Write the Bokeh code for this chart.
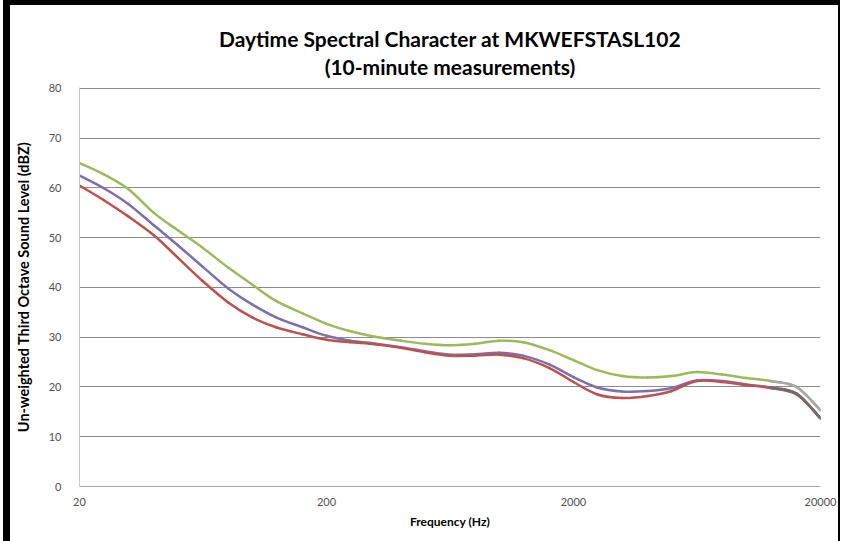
import math
from bokeh.plotting import figure
from bokeh.models import FixedTicker, NumeralTickFormatter, Title, Range1d, LinearAxis
from bokeh.embed import file_html
from bokeh.resources import INLINE

# Third-octave band centre frequencies (Hz)
freq = [20, 25, 31.5, 40, 50, 63, 80, 100, 125, 160, 200, 250, 315, 400, 500,
        630, 800, 1000, 1250, 1600, 2000, 2500, 3150, 4000, 5000, 6300, 8000,
        10000, 12500, 16000, 20000]

green_series = [65.0, 62.8, 59.8, 55.0, 51.5, 48.0, 44.0, 40.6, 37.3, 34.8, 32.7,
                31.2, 30.1, 29.3, 28.7, 28.4, 28.7, 29.3, 29.0, 27.4, 25.4, 23.4,
                22.2, 21.9, 22.2, 23.0, 22.5, 21.8, 21.2, 20.0, 15.3]
purple_series = [62.5, 60.0, 56.8, 52.5, 48.5, 44.2, 39.8, 36.6, 34.0, 32.0, 30.3,
                 29.3, 28.7, 28.0, 27.2, 26.5, 26.6, 26.9, 26.3, 24.5, 22.0, 19.9,
                 19.1, 19.2, 19.8, 21.3, 21.2, 20.5, 19.9, 18.7, 13.7]
red_series = [60.5, 57.6, 54.3, 50.5, 46.0, 41.3, 37.0, 34.0, 32.0, 30.6, 29.5,
              29.0, 28.6, 27.9, 27.0, 26.3, 26.3, 26.5, 25.8, 23.8, 21.0, 18.5,
              17.8, 18.2, 19.2, 21.2, 21.0, 20.4, 19.8, 18.5, 13.7]

# the upper two curves turn grey at the high-frequency end
tail_start = 12500

x_ticks = [20, 200, 2000, 20000]
y_ticks = [0, 10, 20, 30, 40, 50, 60, 70, 80]

title_line1 = "Daytime Spectral Character at MKWEFSTASL102"
title_line2 = "(10-minute measurements)"
x_label = "Frequency (Hz)"
y_label = "Un-weighted Third Octave Sound Level (dBZ)"

FONT = "Lato"


def smooth_segments(xs, ys, x_min=None):
    """Bezier segments (smoothed line, like a spreadsheet 'smooth line')."""
    lx = [math.log10(v) for v in xs]
    n = len(xs)
    out = dict(x0=[], y0=[], x1=[], y1=[], cx0=[], cy0=[], cx1=[], cy1=[])
    for i in range(n - 1):
        if x_min is not None and xs[i] < x_min:
            continue
        a, b = max(i - 1, 0), min(i + 2, n - 1)
        c0x = lx[i] + (lx[i + 1] - lx[a]) / 6
        c0y = ys[i] + (ys[i + 1] - ys[a]) / 6
        c1x = lx[i + 1] - (lx[b] - lx[i]) / 6
        c1y = ys[i + 1] - (ys[b] - ys[i]) / 6
        out["x0"].append(xs[i]); out["y0"].append(ys[i])
        out["x1"].append(xs[i + 1]); out["y1"].append(ys[i + 1])
        out["cx0"].append(10 ** c0x); out["cy0"].append(c0y)
        out["cx1"].append(10 ** c1x); out["cy1"].append(c1y)
    return out


p = figure(width=837, height=541, x_axis_type="log",
           x_range=Range1d(20, 20000), y_range=Range1d(0, 80.2),
           output_backend="svg", toolbar_location=None,
           min_border_left=69, min_border_right=27,
           min_border_top=82, min_border_bottom=60)
p.styles = {"border-left": "7px solid black", "border-top": "5px solid black",
            "border-right": "2px solid black", "margin-left": "3px"}

p.outline_line_color = None
p.background_fill_color = "white"
p.border_fill_color = "white"

main_x = p.below[0]
main_y = p.left[0]

# second title line: label of an empty axis above the plot
sub_axis = LinearAxis(axis_label=title_line2, ticker=FixedTicker(ticks=[]),
                      axis_line_color=None, major_tick_line_color=None,
                      minor_tick_line_color=None, major_label_text_font_size="0px",
                      major_label_standoff=0, axis_label_standoff=9,
                      axis_label_text_font=FONT, axis_label_text_font_size="21px",
                      axis_label_text_font_style="bold",
                      axis_label_text_color="#000000")
p.add_layout(sub_axis, "above")
p.add_layout(Title(text=title_line1, align="center", text_font=FONT,
                   text_font_size="21px", text_font_style="bold",
                   text_color="#000000", standoff=0), "above")

for ys, col in ((green_series, "#9bbb59"), (purple_series, "#7b6fb0"),
                (red_series, "#c0504d")):
    p.bezier(source=smooth_segments(freq, ys), x0="x0", y0="y0", x1="x1", y1="y1",
             cx0="cx0", cy0="cy0", cx1="cx1", cy1="cy1",
             line_color=col, line_width=2.5, line_cap="round")

for ys, col in ((green_series, "#a8a8a8"), (purple_series, "#6e6e6e")):
    p.bezier(source=smooth_segments(freq, ys, x_min=tail_start), x0="x0", y0="y0",
             x1="x1", y1="y1", cx0="cx0", cy0="cy0", cx1="cx1", cy1="cy1",
             line_color=col, line_width=2.5, line_cap="round")

# axes
main_x.ticker = FixedTicker(ticks=x_ticks)
main_x.formatter = NumeralTickFormatter(format="0")
main_y.ticker = FixedTicker(ticks=y_ticks)
for ax in (main_x, main_y):
    ax.major_tick_line_color = None
    ax.minor_tick_line_color = None
    ax.major_label_text_font = FONT
    ax.major_label_text_font_size = "11px"
    ax.major_label_text_color = "#505050"
    ax.axis_label_text_font = FONT
    ax.axis_label_text_font_style = "bold"
    ax.axis_label_text_color = "#000000"

main_x.axis_label_text_font_size = "12px"
main_y.axis_label_text_font_size = "14.5px"
main_x.axis_label = x_label
main_y.axis_label = y_label
main_x.axis_line_color = "#a6a6a6"
main_y.axis_line_color = "#c8c8c8"
main_x.major_label_standoff = 5
main_y.major_label_standoff = 12
main_x.axis_label_standoff = 5
main_y.axis_label_standoff = 14

p.xgrid.visible = False
p.ygrid.grid_line_color = "#8c8c8c"
p.ygrid.grid_line_width = 1

open("out.html", "w").write(file_html(p, INLINE))
